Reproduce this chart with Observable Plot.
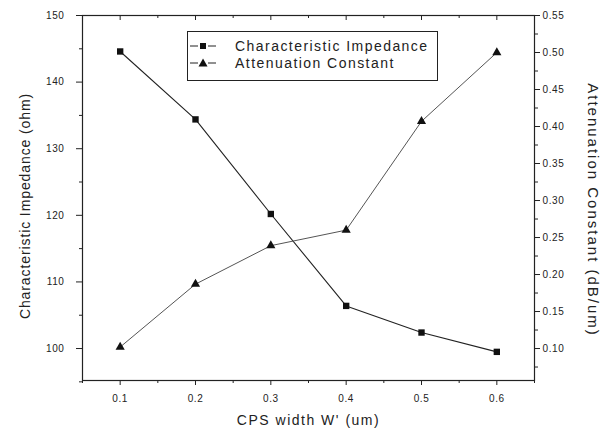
<!DOCTYPE html>
<html><head><meta charset="utf-8">
<script src="https://cdn.jsdelivr.net/npm/d3@7"></script>
<script src="https://cdn.jsdelivr.net/npm/@observablehq/plot@0.6"></script>
<style>
body{margin:0;background:#fff;}
#wrap{position:relative;width:608px;height:436px;font-family:"Liberation Sans",Arial,sans-serif;color:#222;}
#legend{position:absolute;left:187px;top:31px;width:251px;height:50px;border:1px solid #222;background:#fff;box-sizing:border-box;}
.row{position:absolute;left:0;height:16px;font-size:14px;letter-spacing:1.45px;line-height:16px;white-space:nowrap;}
.row svg{position:absolute;left:2px;top:2px;}
.row span{position:absolute;left:47px;top:0;}
</style></head><body><div id="wrap"></div>
<script>
const widths = [0.1, 0.2, 0.3, 0.4, 0.5, 0.6];
const impedance = [144.6, 134.4, 120.2, 106.4, 102.4, 99.5];
const attenuation = [0.102, 0.187, 0.239, 0.260, 0.407, 0.500];
const xTicks = [0.1, 0.2, 0.3, 0.4, 0.5, 0.6];
const xMinor = [0.05, 0.15, 0.25, 0.35, 0.45, 0.55, 0.65];
const leftTicks = [100, 110, 120, 130, 140, 150];
const leftMinor = [95, 105, 115, 125, 135, 145];
const rightTicks = [0.10, 0.15, 0.20, 0.25, 0.30, 0.35, 0.40, 0.45, 0.50, 0.55];
const rightMinor = [0.075, 0.125, 0.175, 0.225, 0.275, 0.325, 0.375, 0.425, 0.475, 0.525];
const seriesNames = ["Characteristic Impedance", "Attenuation Constant"];
const xTitle = "CPS width W' (um)";
const yLeftTitle = "Characteristic Impedance (ohm)";
const yRightTitle = "Attenuation Constant (dB/um)";

// right axis (attenuation) is linked to left axis: 100 ohm <-> 0.10, 150 ohm <-> 0.55
const toLeft = a => 100 + (a - 0.10) / 0.009;
const toRight = v => (v - 100) * 0.009 + 0.10;

const W = 608, H = 436;
const M = {top: 15, right: 74, bottom: 56, left: 82};
const innerH = H - M.top - M.bottom;

const imp = widths.map((w, i) => ({w, v: impedance[i]}));
const att = widths.map((w, i) => ({w, v: toLeft(attenuation[i])}));
const blank = () => "";

const chart = Plot.plot({
  width: W, height: H,
  marginTop: M.top, marginRight: M.right, marginBottom: M.bottom, marginLeft: M.left,
  x: {domain: [0.05, 0.65]},
  y: {domain: [95.2, 150]},
  style: {fontFamily: '"Liberation Sans", Arial, sans-serif', fontSize: "10px", color: "#222", background: "white", letterSpacing: "0.6px"},
  marks: [
    Plot.axisX({ticks: xTicks, tickSize: 5, tickPadding: 9, tickFormat: d3.format(".1f"), label: null}),
    Plot.axisX({ticks: xMinor, tickSize: 3, tickFormat: blank, label: null}),
    Plot.tickX(xTicks, {x: d => d, insetBottom: innerH - 5, stroke: "#222"}),
    Plot.tickX(xMinor, {x: d => d, insetBottom: innerH - 3, stroke: "#222"}),
    Plot.axisY({ticks: leftTicks, tickSize: 6, tickPadding: 12, label: null}),
    Plot.axisY({ticks: leftMinor, tickSize: 3, tickFormat: blank, label: null}),
    Plot.axisY({anchor: "right", ticks: rightTicks.map(toLeft), tickSize: 5, tickPadding: 3, tickFormat: d => toRight(d).toFixed(2), label: null}),
    Plot.axisY({anchor: "right", ticks: rightMinor.map(toLeft), tickSize: 3, tickFormat: blank, label: null}),
    Plot.frame({stroke: "#222", strokeWidth: 1.2}),
    Plot.line(imp, {x: "w", y: "v", stroke: "#222", strokeWidth: 1.1}),
    Plot.line(att, {x: "w", y: "v", stroke: "#555", strokeWidth: 1}),
    Plot.dot(imp, {x: "w", y: "v", symbol: "square", r: 3.6, fill: "#111", stroke: "none"}),
    Plot.dot(att, {x: "w", y: "v", symbol: "triangle", r: 3.4, fill: "#111", stroke: "none"}),
    Plot.text([yLeftTitle], {text: d => d, frameAnchor: "left", textAnchor: "middle", rotate: -90, dx: -57, dy: 8, fontSize: 14, fill: "#222"}),
    Plot.text([yRightTitle], {text: d => d, frameAnchor: "right", textAnchor: "middle", rotate: 90, dx: 58, dy: 12, fontSize: 15, fill: "#222"}),
    Plot.text([xTitle], {text: d => d, frameAnchor: "bottom", textAnchor: "middle", lineAnchor: "middle", dy: 40, fontSize: 14, fill: "#222"})
  ]
});
const wrap = document.getElementById("wrap");
wrap.appendChild(chart);
d3.select(chart).selectAll("text").filter(function(){ return this.textContent === yLeftTitle; }).style("letter-spacing", "0.9px");
d3.select(chart).selectAll("text").filter(function(){ return this.textContent === yRightTitle; }).style("letter-spacing", "2px");
d3.select(chart).selectAll("text").filter(function(){ return this.textContent === xTitle; }).style("letter-spacing", "1.5px");

// legend
const legend = document.createElement("div");
legend.id = "legend";
const symbols = ["square", "triangle"];
seriesNames.forEach((name, i) => {
  const row = document.createElement("div");
  row.className = "row";
  row.style.top = (6 + i * 17) + "px";
  const sym = symbols[i] === "square"
    ? '<rect x="10" y="3" width="6" height="6" fill="#111"/>'
    : '<path d="M13,1.5 L17.5,9.5 L8.5,9.5 Z" fill="#111"/>';
  row.innerHTML = '<svg width="28" height="12"><line x1="0" y1="6" x2="8" y2="6" stroke="#222"/><line x1="18" y1="6" x2="26" y2="6" stroke="#222"/>' + sym + '</svg><span>' + name + '</span>';
  legend.appendChild(row);
});
wrap.appendChild(legend);
</script>
</body></html>
